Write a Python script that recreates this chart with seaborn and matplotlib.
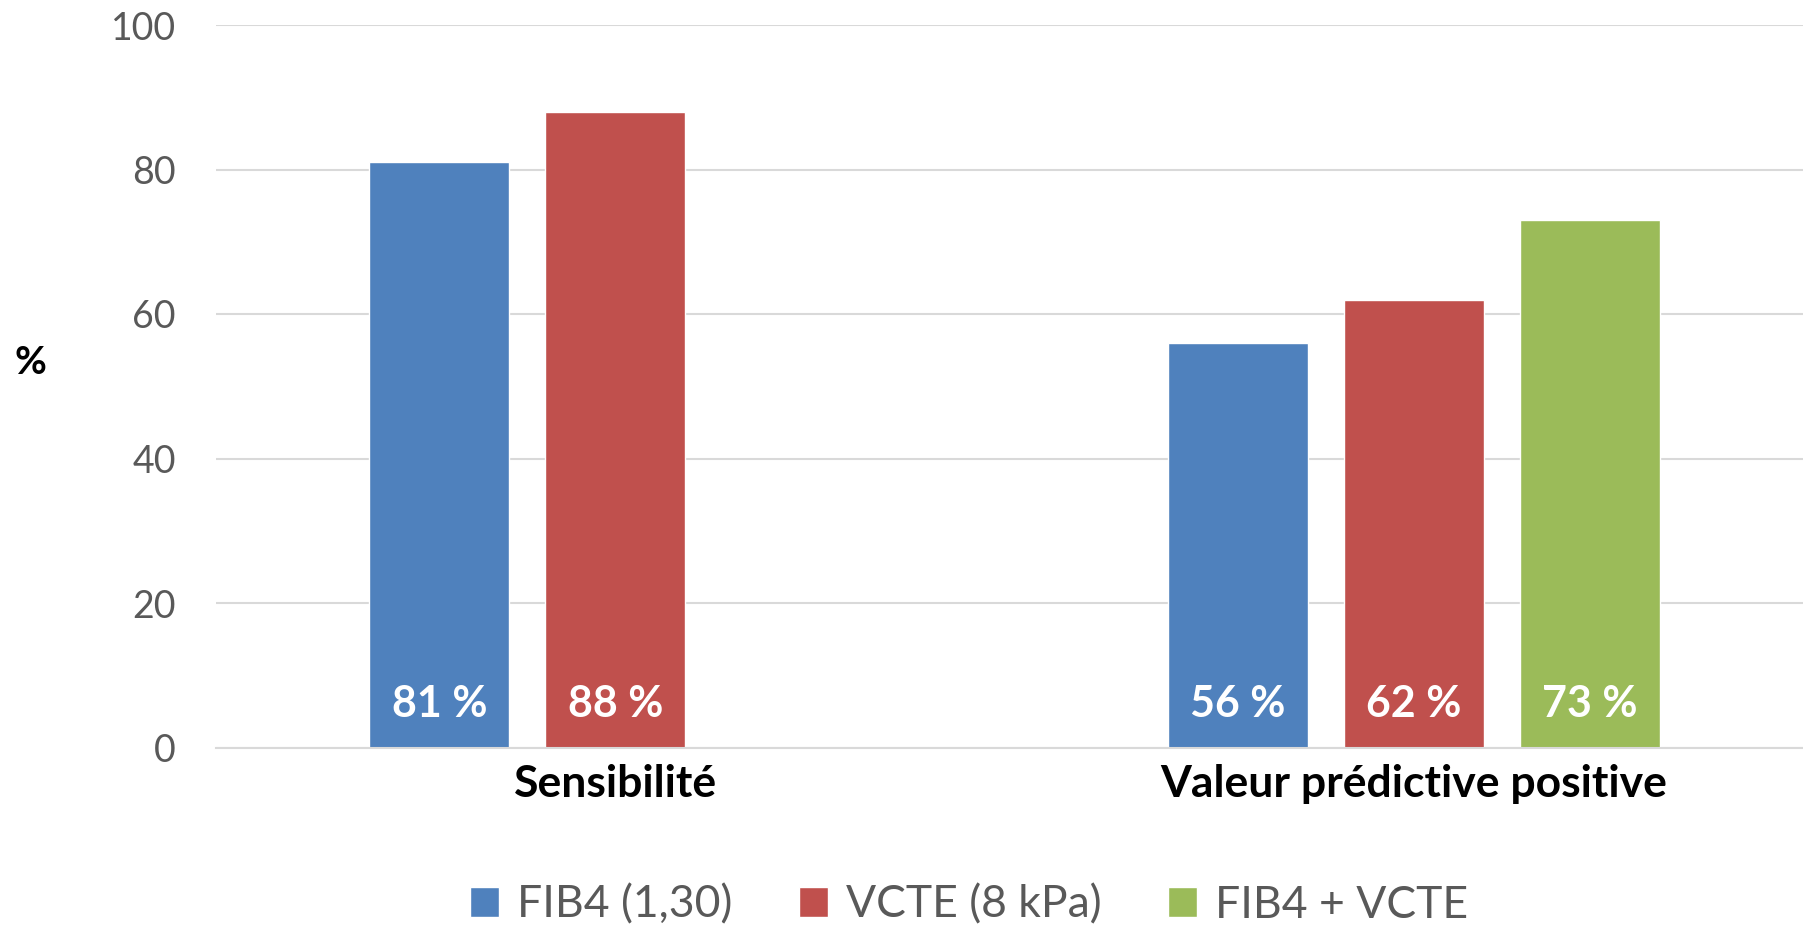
import numpy as np
import pandas as pd
import seaborn as sns
import matplotlib.pyplot as plt

# donnees
categories = ['Sensibilité', 'Valeur prédictive positive']
series = ['FIB4 (1,30)', 'VCTE (8 kPa)', 'FIB4 + VCTE']
fib4 = [81, 56]
vcte = [88, 62]
combo = [np.nan, 73]
colors = ['#4F81BD', '#C0504D', '#9BBB59']
yticks = [0, 20, 40, 60, 80, 100]

rows = []
for i, cat in enumerate(categories):
    for name, vals in zip(series, [fib4, vcte, combo]):
        if not np.isnan(vals[i]):
            rows.append({'cat': cat, 'serie': name, 'val': vals[i]})
df = pd.DataFrame(rows)

sns.set_style('white')
plt.rcParams['font.family'] = ['Lato', 'DejaVu Sans']

fig = plt.figure(figsize=(18.03, 9.31), dpi=100)
ax = fig.add_axes([216 / 1803, 183.5 / 931, 1597 / 1803, 722.5 / 931])

sns.barplot(data=df, x='cat', y='val', hue='serie', order=categories,
            hue_order=series, palette=colors, width=0.661, gap=0.205,
            saturation=1, ax=ax, legend=True)

ax.set_xlim(-0.5, 1.5)
ax.set_ylim(0, 100)
ax.set_yticks(yticks)
ax.yaxis.grid(True, color='#D9D9D9', lw=1.5)
ax.set_axisbelow(True)
for s in ['top', 'left', 'right']:
    ax.spines[s].set_visible(False)
ax.spines['bottom'].set_color('#D9D9D9')
ax.spines['bottom'].set_linewidth(1.5)

ax.tick_params(axis='y', length=0, pad=29, labelsize=27, labelcolor='#595959')
ax.tick_params(axis='x', length=0, pad=12, labelsize=32)
for lab in ax.get_xticklabels():
    lab.set_fontweight('bold')
    lab.set_color('black')
ax.set_xlabel('')
ax.set_ylabel('')

# etiquettes de valeurs en bas des barres
for cont in ax.containers:
    for bar in cont:
        h = bar.get_height()
        if np.isnan(h) or h == 0:
            continue
        ax.text(bar.get_x() + bar.get_width() / 2, 6.0, f'{h:.0f} %',
                ha='center', va='center', color='white', fontsize=31,
                fontweight='bold')

fig.text(30 / 1803, 1 - 362 / 931, '%', ha='center', va='center',
         fontsize=28, fontweight='bold', color='black')

handles, labels = ax.get_legend_handles_labels()
ax.legend_.remove()
fig.legend(handles, labels, loc='center', bbox_to_anchor=(969 / 1803, 1 - 905 / 931),
           ncol=3, frameon=False, fontsize=32, labelcolor='#595959',
           handlelength=0.65, handleheight=0.65, handletextpad=0.4,
           columnspacing=1.5)

fig.savefig('out.png', dpi=100)
